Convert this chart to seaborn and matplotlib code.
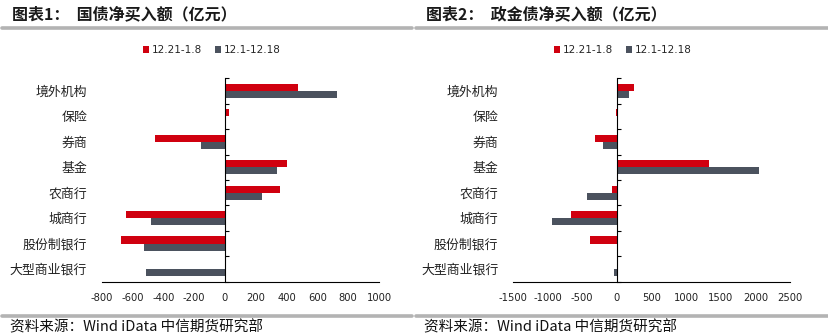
import matplotlib
matplotlib.use("Agg")
import matplotlib.pyplot as plt
import seaborn as sns
import pandas as pd
import numpy as np
from matplotlib.lines import Line2D
from matplotlib.patches import Patch

sns.set_style("white")
plt.rcParams['font.family'] = ['Noto Sans CJK SC', 'DejaVu Sans']

categories = ["境外机构", "保险", "券商", "基金", "农商行", "城商行", "股份制银行", "大型商业银行"]
series_names = ["12.21-1.8", "12.1-12.18"]

# 国债净买入额
treasury_recent = [476, 26, -455, 403, 355, -640, -673, 5]
treasury_prior = [727, 8, -156, 338, 238, -482, -528, -515]

# 政金债净买入额
policy_recent = [254, -19, -313, 1328, -68, -664, -390, 5]
policy_prior = [178, -3, -198, 2050, -429, -944, -5, -48]

titles = ["图表1：  国债净买入额（亿元）", "图表2：  政金债净买入额（亿元）"]
xticks_left = [-800, -600, -400, -200, 0, 200, 400, 600, 800, 1000]
xticks_right = [-1500, -1000, -500, 0, 500, 1000, 1500, 2000, 2500]
source_text = "资料来源：Wind iData 中信期货研究部"

colors = ["#D0000F", "#4B525E"]

W, H = 829, 336
fig = plt.figure(figsize=(W / 100, H / 100), dpi=100)


def make_df(recent, prior):
    return pd.DataFrame({
        "cat": categories * 2,
        "series": [series_names[0]] * len(categories) + [series_names[1]] * len(categories),
        "val": list(recent) + list(prior),
    })


def draw(ax, df, xticks):
    sns.barplot(data=df, y="cat", x="val", hue="series", order=categories,
                hue_order=series_names, palette=colors, orient="h", width=0.56,
                ax=ax, legend=False, saturation=1, edgecolor="none")
    ax.set_xlim(xticks[0], xticks[-1])
    ax.set_ylim(len(categories) - 0.5, -0.5)
    ax.set_xticks(xticks)
    ax.set_xticklabels([str(t) for t in xticks], fontsize=7.2,
                       family=['Liberation Sans Narrow', 'DejaVu Sans'], color="#222222")
    ax.set_xlabel("")
    ax.set_ylabel("")
    ax.tick_params(axis="x", direction="in", length=3, width=0.8, pad=8, color="black")
    ax.tick_params(axis="y", which="major", left=False, right=False, labelsize=9.3, pad=7,
                   labelcolor="#222222")
    ax.set_yticks(np.arange(len(categories)))
    ax.set_yticklabels(categories)
    ax.set_yticks(np.arange(len(categories) + 1) - 0.5, minor=True)
    ax.tick_params(axis="y", which="minor", left=False, right=True, direction="out",
                   length=3, width=0.8, color="black")
    ax.spines["left"].set_visible(False)
    ax.spines["top"].set_visible(False)
    ax.spines["right"].set_position(("data", 0))
    ax.spines["right"].set_color("black")
    ax.spines["right"].set_linewidth(0.8)
    ax.spines["bottom"].set_color("black")
    ax.spines["bottom"].set_linewidth(0.8)
    ax.grid(False)


ax1 = fig.add_axes([101.7 / W, (H - 281.7) / H, (379 - 101.7) / W, (281.7 - 78.3) / H])
ax2 = fig.add_axes([513 / W, (H - 281.7) / H, (790 - 513) / W, (281.7 - 78.3) / H])
draw(ax1, make_df(treasury_recent, treasury_prior), xticks_left)
draw(ax2, make_df(policy_recent, policy_prior), xticks_right)

# titles and separator lines
for x0, x1, t in [(2, 412, titles[0]), (416, 829, titles[1])]:
    fig.text((x0 + 10) / W, 1 - 14 / H, t, fontsize=11.5, fontweight="bold",
             color="#1a1a1a", ha="left", va="center")
    fig.add_artist(Line2D([x0 / W, x1 / W], [1 - 27.5 / H] * 2, color="#B3B3B3",
                          linewidth=2.6, transform=fig.transFigure))
    fig.add_artist(Line2D([x0 / W, x1 / W], [1 - 316 / H] * 2, color="#B3B3B3",
                          linewidth=2.6, transform=fig.transFigure))
    fig.text((x0 + 8) / W, 1 - 327 / H, source_text, fontsize=10.5, color="#111111",
             ha="left", va="center")

# legends
handles = [Patch(facecolor=c, edgecolor="none") for c in colors]
for cx in [212, 623]:
    fig.legend(handles, series_names, loc="center", bbox_to_anchor=(cx / W, 1 - 50 / H),
               ncol=2, frameon=False, prop={"family": "DejaVu Sans", "size": 7.5},
               handlelength=0.6, handleheight=0.6,
               handletextpad=0.3, columnspacing=1.2, borderaxespad=0)

fig.savefig("out.png", dpi=100)
